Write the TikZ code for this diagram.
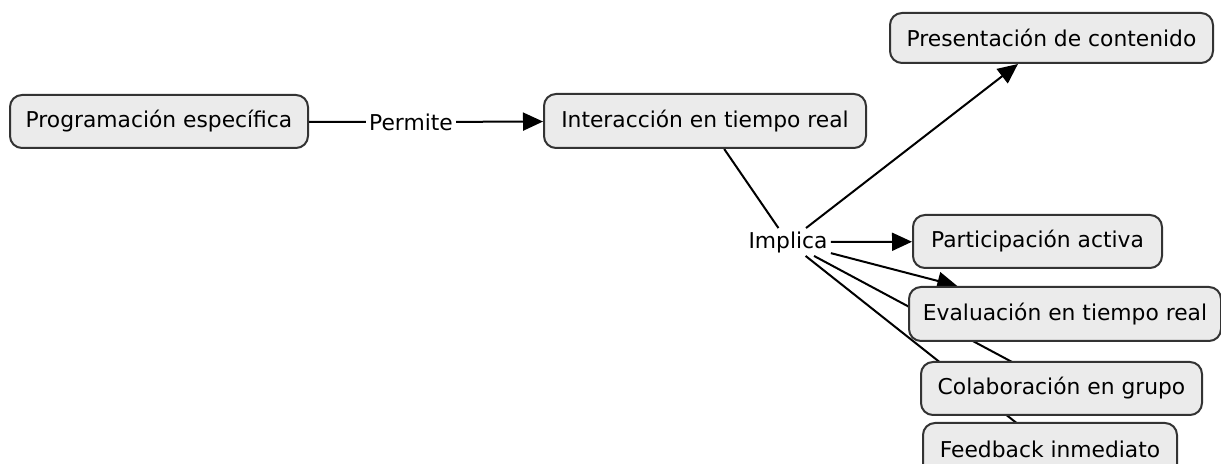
\documentclass[tikz,border=0pt]{standalone}
\usepackage{fontspec}
\setmainfont{DejaVu Sans}
\usetikzlibrary{arrows.meta,backgrounds}
\definecolor{boxfill}{HTML}{EBEBEB}
\definecolor{boxline}{HTML}{333333}
\begin{document}
\begin{tikzpicture}[x=0.5pt,y=-0.5pt,
  concept/.style={draw=boxline,line width=1pt,fill=boxfill,rounded corners=6pt,
    inner sep=0pt,align=center,font=\fontsize{10.9}{13}\selectfont},
  linkword/.style={inner sep=1.5pt,font=\fontsize{10.9}{13}\selectfont},
  conn/.style={line width=1pt,black},
  arr/.style={conn,-{Triangle[length=10pt,width=9pt]}}]
\useasboundingbox (0,0) rectangle (1221,464);
\node[concept,minimum width=149pt,minimum height=26.5pt] (prog) at (159,121.5) {Programación específica};
\node[concept,minimum width=161pt,minimum height=27pt] (inter) at (705,121) {Interacción en tiempo real};
\node[concept,minimum width=161.5pt,minimum height=25pt] (pres) at (1051.5,38) {Presentación de contenido};
\node[concept,minimum width=124.5pt,minimum height=26.5pt] (part) at (1037.5,241.5) {Participación activa};
\node[concept,minimum width=156pt,minimum height=27pt] (eval) at (1065,314) {Evaluación en tiempo real};
\node[concept,minimum width=140.5pt,minimum height=26.5pt] (colab) at (1061.5,388.5) {Colaboración en grupo};
\node[concept,minimum width=127pt,minimum height=26.5pt] (feed) at (1050,449.5) {Feedback inmediato};
\node[linkword] (perm) at (411,122) {Permite};
\node[linkword] (impl) at (788,242) {Implica};
\begin{pgfonlayer}{background}
\draw[conn] (prog) -- (perm);
\draw[arr] (perm) -- (inter);
\draw[conn] (inter) -- (impl);
\draw[arr] (impl) -- (pres);
\draw[arr] (impl) -- (part);
\draw[arr] (impl) -- (eval);
\draw[arr] (impl) -- (colab.center);
\draw[arr] (impl) -- (feed.center);
\end{pgfonlayer}
\end{tikzpicture}
\end{document}
